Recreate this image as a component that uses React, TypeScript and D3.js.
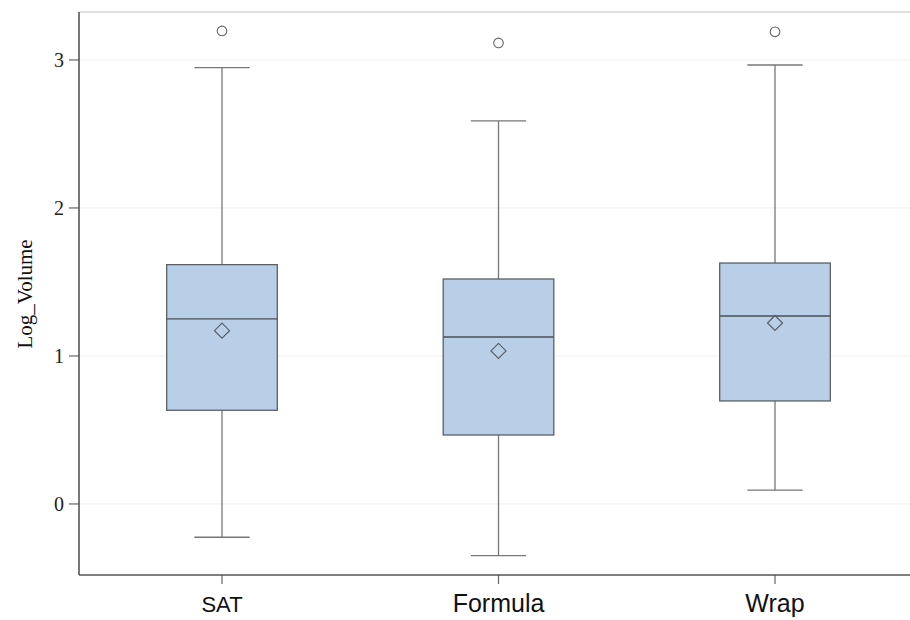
import React from "react";
import * as d3 from "d3";

const categories = ["SAT", "Formula", "Wrap"];
const q1 = [0.633, 0.466, 0.696];
const median = [1.25, 1.128, 1.27];
const q3 = [1.617, 1.52, 1.628];
const mean = [1.171, 1.034, 1.223];
const whiskerLow = [-0.225, -0.349, 0.093];
const whiskerHigh = [2.948, 2.588, 2.966];
const outliers = [[3.196], [3.115], [3.19]];
const yTicks = [0, 1, 2, 3];

const W = 910;
const H = 620;
const left = 79;
const top = 12;
const bottom = 575;
const labelSizes: Record<string, number> = { SAT: 22, Formula: 25, Wrap: 25 };

export default function App() {
  const x = d3.scaleBand<string>().domain(categories).range([83.75, 913.25]).padding(0);
  const y = d3.scaleLinear().domain([-0.48, 3.324]).range([bottom, top]);
  const step = x.bandwidth();
  const boxW = step * 0.4;
  const capW = step * 0.2;
  const dm = 7.5;

  return (
    <svg
      width={W}
      height={H}
      style={{ position: "absolute", left: 0, top: 0, background: "#fff" }}
    >
      <rect x={0} y={0} width={W} height={H} fill="#fff" />
      {yTicks.map((t) => (
        <line key={"g" + t} x1={left} x2={W} y1={y(t)} y2={y(t)} stroke="#efefef" strokeWidth={1} />
      ))}
      <line x1={left} x2={W} y1={top} y2={top} stroke="#d6d6d6" strokeWidth={1.5} />
      {categories.map((c, i) => {
        const cx = (x(c) as number) + step / 2;
        return (
          <g key={c}>
            <line x1={cx} x2={cx} y1={y(whiskerHigh[i])} y2={y(q3[i])} stroke="#777" strokeWidth={1.3} />
            <line x1={cx} x2={cx} y1={y(q1[i])} y2={y(whiskerLow[i])} stroke="#777" strokeWidth={1.3} />
            <line x1={cx - capW / 2} x2={cx + capW / 2} y1={y(whiskerHigh[i])} y2={y(whiskerHigh[i])} stroke="#777" strokeWidth={1.3} />
            <line x1={cx - capW / 2} x2={cx + capW / 2} y1={y(whiskerLow[i])} y2={y(whiskerLow[i])} stroke="#777" strokeWidth={1.3} />
            <rect
              x={cx - boxW / 2}
              y={y(q3[i])}
              width={boxW}
              height={y(q1[i]) - y(q3[i])}
              fill="#b9cfe7"
              stroke="#5a5f66"
              strokeWidth={1.3}
            />
            <line x1={cx - boxW / 2} x2={cx + boxW / 2} y1={y(median[i])} y2={y(median[i])} stroke="#4a4f58" strokeWidth={1.3} />
            <path
              d={`M${cx},${y(mean[i]) - dm}L${cx + dm},${y(mean[i])}L${cx},${y(mean[i]) + dm}L${cx - dm},${y(mean[i])}Z`}
              fill="none"
              stroke="#5a5f66"
              strokeWidth={1.2}
            />
            {outliers[i].map((o, j) => (
              <circle key={j} cx={cx} cy={y(o)} r={4.8} fill="none" stroke="#666" strokeWidth={1.1} />
            ))}
            <line x1={cx} x2={cx} y1={bottom} y2={bottom + 9} stroke="#666" strokeWidth={1.2} />
            <text
              x={cx}
              y={612}
              textAnchor="middle"
              fontFamily="'Liberation Sans', Arial, sans-serif"
              fontSize={labelSizes[c]}
              fill="#111"
            >
              {c}
            </text>
          </g>
        );
      })}
      {yTicks.map((t) => (
        <g key={"t" + t}>
          <line x1={left - 10} x2={left} y1={y(t)} y2={y(t)} stroke="#666" strokeWidth={1.2} />
          <text
            x={left - 15}
            y={y(t)}
            dy="0.34em"
            textAnchor="end"
            fontFamily="'Liberation Serif', 'Times New Roman', serif"
            fontSize={20}
            fill="#222"
          >
            {t}
          </text>
        </g>
      ))}
      <line x1={left} x2={left} y1={top} y2={bottom} stroke="#555" strokeWidth={1.6} />
      <line x1={left} x2={W} y1={bottom} y2={bottom} stroke="#555" strokeWidth={1.6} />
      <text
        transform={`translate(32,${(y(1) + y(2)) / 2 + 12}) rotate(-90)`}
        textAnchor="middle"
        fontFamily="'Liberation Serif', 'Times New Roman', serif"
        fontSize={21}
        fill="#111"
      >
        Log_Volume
      </text>
    </svg>
  );
}
